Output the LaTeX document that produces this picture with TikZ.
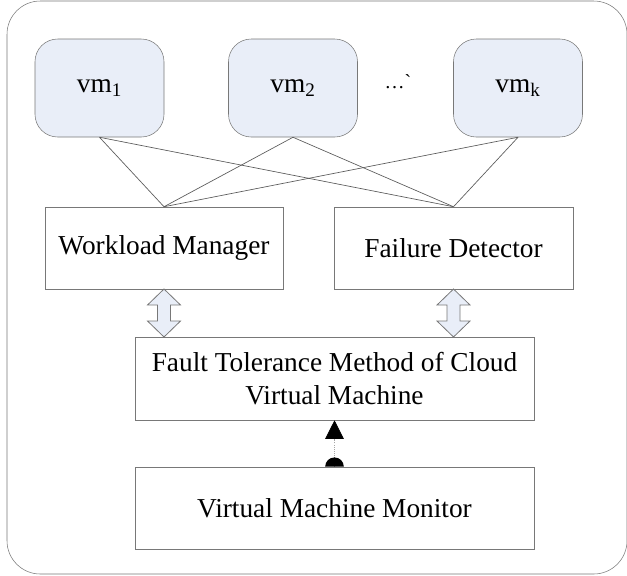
\documentclass[tikz,border=0pt]{standalone}
\usepackage{fontspec}
\setmainfont{Liberation Serif}
\usetikzlibrary{arrows.meta, positioning, calc}
\definecolor{framegray}{RGB}{120, 120, 120}
\definecolor{linkgray}{RGB}{90, 90, 90}
\definecolor{vmblue}{RGB}{233, 238, 248}

\begin{document}
\begin{tikzpicture}[
    x=0.75pt, y=-0.75pt,
    % Node styles
    vmbox/.style={
        rectangle,
        rounded corners=17pt,
        draw=framegray,
        fill=vmblue,
        minimum width=96.75pt,
        minimum height=73.5pt,
        font=\fontsize{20.5}{24}\selectfont
    },
    compbox/.style={
        rectangle,
        draw=framegray,
        minimum width=#1,
        minimum height=61.5pt,
        align=center,
        font=\fontsize{20.5}{24.75}\selectfont
    },
    link/.style={
        draw=linkgray,
        line width=0.5pt
    },
    % two-way block arrow, drawn round its centre
    twoway/.pic={
        \draw[framegray, fill=vmblue, line width=0.6pt]
            (0,-24) -- (16.5,-8) -- (6.5,-8) -- (6.5,8) -- (16.5,8) -- (0,24)
            -- (-16.5,8) -- (-6.5,8) -- (-6.5,-8) -- (-16.5,-8) -- cycle;
    }
]
\useasboundingbox (0,0) rectangle (627,575);

% ============================================
% OUTER FRAME
% ============================================
\draw[framegray, rounded corners=25pt] (7,1) rectangle (627,574);

% ============================================
% VIRTUAL MACHINES
% ============================================
\node[vmbox] (vm1) at (99.5, 88) {vm\textsubscript{1}};
\node[vmbox] (vm2) at (293, 88) {vm\textsubscript{2}};
\node[vmbox] (vmk) at (518, 88) {vm\textsubscript{k}};
\node[font=\fontsize{15}{18}\selectfont, inner sep=0pt] (dots) at (398, 82) {…\textasciigrave};

% ============================================
% MANAGEMENT LAYER
% ============================================
\node[compbox=178.5pt] (workload) at (164, 248) {Workload Manager};
\node[compbox=179.25pt] (detector) at (453.5, 248) {Failure Detector};

\node[compbox=299.25pt, minimum height=62.25pt] (fault) at (334.5, 378.5)
    {Fault Tolerance Method of Cloud\\Virtual Machine};
\node[compbox=299.25pt] (monitor) at (334.5, 508) {Virtual Machine Monitor};

% ============================================
% CONNECTIONS
% ============================================

% every vm talks to both managers
\foreach \vm in {vm1, vm2, vmk} {
    \draw[link] (\vm.south) -- (workload.north);
    \draw[link] (\vm.south) -- (detector.north);
}

% two-way links to the fault tolerance layer
\pic at ($(workload.south)!0.5!(workload.south |- fault.north)$) {twoway};
\pic at ($(detector.south)!0.5!(detector.south |- fault.north)$) {twoway};

% monitor -> fault tolerance
\draw[black!35, densely dotted, line width=0.6pt,
      -{Triangle[length=14pt, width=14pt, color=black]}]
    (monitor.north) -- (fault.south);
\fill ([xshift=-7pt]monitor.north) arc[start angle=180, end angle=0, radius=7pt] -- cycle;

\end{tikzpicture}
\end{document}
